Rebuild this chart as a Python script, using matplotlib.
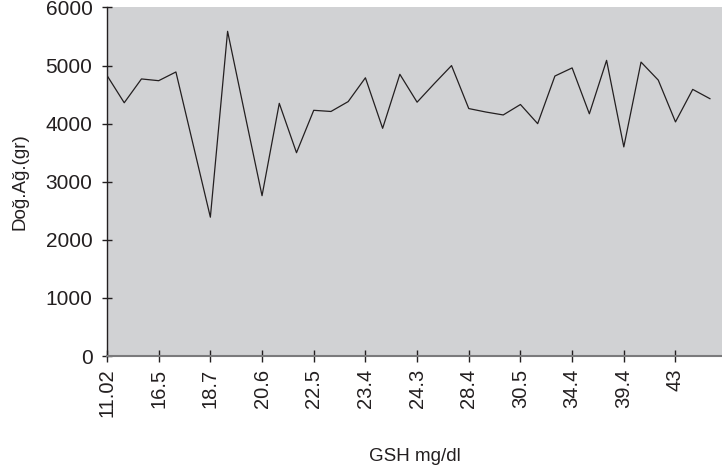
import numpy as np
import matplotlib
matplotlib.use("Agg")
import matplotlib.pyplot as plt

# birth weight (gr) for each case, ordered by GSH
dog_ag = [4830, 4360, 4770, 4740, 4890, 3640, 2390, 5590, 4170, 2760,
          4350, 3500, 4230, 4210, 4380, 4790, 3920, 4850, 4370, 4690,
          5000, 4260, 4200, 4150, 4330, 4000, 4820, 4960, 4170, 5090,
          3600, 5060, 4750, 4030, 4590, 4430]
# labels shown on every third category
gsh_labels = ["11.02", "16.5", "18.7", "20.6", "22.5", "23.4",
              "24.3", "28.4", "30.5", "34.4", "39.4", "43"]
y_ticks = [0, 1000, 2000, 3000, 4000, 5000, 6000]

plt.rcParams['font.family'] = ['Liberation Sans', 'DejaVu Sans']
txt = '#231f20'

fig = plt.figure(figsize=(7.22, 4.69), dpi=100)
ax = fig.add_axes([107/722, 1-356/469, 1-107/722, (356-7.5)/469])
ax.set_facecolor('#d1d2d4')

x = np.arange(len(dog_ag))
ax.plot(x, dog_ag, color='#231f20', lw=0.9)

ax.set_xlim(0, 35.7)
ax.set_ylim(0, 6000)
ax.set_yticks(y_ticks)
ax.set_xticks(x[::3])
ax.set_xticklabels(gsh_labels, rotation=90)

for s in ['top', 'right']:
    ax.spines[s].set_visible(False)
ax.spines['left'].set_color(txt)
ax.spines['left'].set_linewidth(1.0)
ax.spines['bottom'].set_color('#7a7a7c')
ax.spines['bottom'].set_linewidth(1.5)

ax.tick_params(axis='y', direction='inout', length=7, width=1.0,
               colors=txt, labelsize=15, pad=7)
ax.tick_params(axis='x', direction='inout', length=8, width=1.0,
               colors=txt, labelsize=14.5, pad=5)

ax.set_xlabel('GSH mg/dl', fontsize=13.5, color=txt, labelpad=22)
ax.set_ylabel('Doğ.Ağ.(gr)', fontsize=13.5, color=txt, labelpad=12)

fig.savefig('out.png', dpi=100)
